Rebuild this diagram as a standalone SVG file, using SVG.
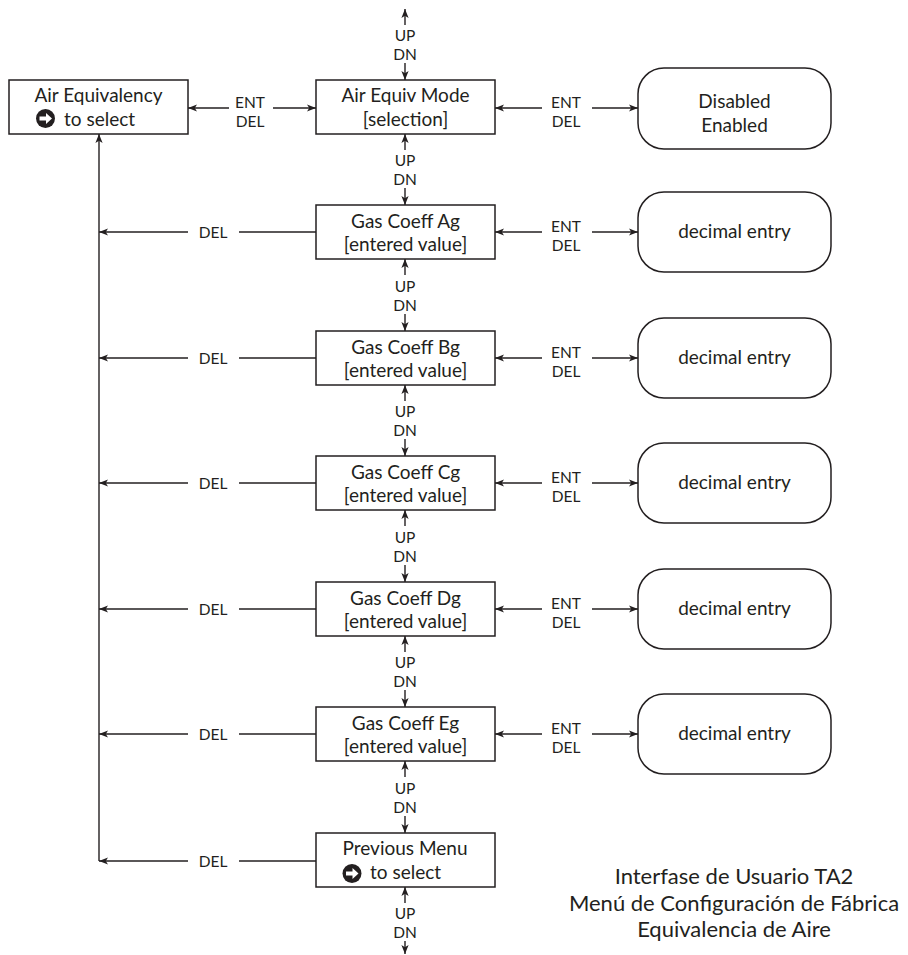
<svg xmlns="http://www.w3.org/2000/svg" width="908" height="955" viewBox="0 0 908 955">
<style>
  .box { fill: #fff; stroke: #231f20; stroke-width: 1.5; }
  .rbox { fill: #fff; stroke: #231f20; stroke-width: 1.5; }
  .ln { fill: none; stroke: #231f20; stroke-width: 1.4; }
  .arr { fill: none; stroke: #231f20; stroke-width: 1.4; marker-end: url(#ah); }
  text { font-family: Lato, "Open Sans", sans-serif; fill: #231f20; }
  .t { font-size: 19px; text-anchor: middle; }
  .tl { font-size: 19px; }
  .lab { font-size: 15.5px; text-anchor: middle; }
  .title { font-size: 22px; text-anchor: middle; }
</style>
<defs>
  <marker id="ah" viewBox="0 0 10 8" refX="10" refY="4" markerWidth="9" markerHeight="7.5" markerUnits="userSpaceOnUse" orient="auto">
    <path d="M0,0 L10,4 L0,8 L2.5,4 z" fill="#231f20"/>
  </marker>
  <g id="icon">
    <circle cx="0" cy="0" r="9.5" fill="#231f20"/>
    <path d="M-6,-2 L0.5,-2 L0.5,-5.5 L6.5,0 L0.5,5.5 L0.5,2 L-6,2 z" fill="#fff"/>
  </g>
</defs>

<g id="connectors">
  <!-- top UP/DN -->
  <line class="arr" x1="405" y1="25" x2="405" y2="9"/>
  <line class="arr" x1="405" y1="63" x2="405" y2="80"/>
  <!-- gaps -->
  <line class="arr" x1="405" y1="150" x2="405" y2="134"/>
  <line class="arr" x1="405" y1="188" x2="405" y2="205"/>
  <line class="arr" x1="405" y1="275" x2="405" y2="259"/>
  <line class="arr" x1="405" y1="314" x2="405" y2="331"/>
  <line class="arr" x1="405" y1="401" x2="405" y2="385"/>
  <line class="arr" x1="405" y1="439" x2="405" y2="456"/>
  <line class="arr" x1="405" y1="526" x2="405" y2="510"/>
  <line class="arr" x1="405" y1="565" x2="405" y2="582"/>
  <line class="arr" x1="405" y1="652" x2="405" y2="636"/>
  <line class="arr" x1="405" y1="690" x2="405" y2="707"/>
  <line class="arr" x1="405" y1="777" x2="405" y2="761"/>
  <line class="arr" x1="405" y1="816" x2="405" y2="833"/>
  <!-- bottom -->
  <line class="arr" x1="405" y1="903" x2="405" y2="887"/>
  <line class="arr" x1="405" y1="941" x2="405" y2="954"/>

  <!-- left ENT/DEL -->
  <line class="arr" x1="229" y1="108" x2="188" y2="108"/>
  <line class="arr" x1="273" y1="108" x2="316" y2="108"/>

  <!-- right ENT/DEL -->
  <line class="arr" x1="542" y1="108" x2="495" y2="108"/>
  <line class="arr" x1="592" y1="108" x2="638" y2="108"/>
  <line class="arr" x1="542" y1="232" x2="495" y2="232"/>
  <line class="arr" x1="592" y1="232" x2="638" y2="232"/>
  <line class="arr" x1="542" y1="358" x2="495" y2="358"/>
  <line class="arr" x1="592" y1="358" x2="638" y2="358"/>
  <line class="arr" x1="542" y1="483" x2="495" y2="483"/>
  <line class="arr" x1="592" y1="483" x2="638" y2="483"/>
  <line class="arr" x1="542" y1="609" x2="495" y2="609"/>
  <line class="arr" x1="592" y1="609" x2="638" y2="609"/>
  <line class="arr" x1="542" y1="734" x2="495" y2="734"/>
  <line class="arr" x1="592" y1="734" x2="638" y2="734"/>

  <!-- left return bus -->
  <line class="arr" x1="99" y1="861" x2="99" y2="134"/>
  <line class="ln" x1="316" y1="232" x2="239" y2="232"/>
  <line class="arr" x1="188" y1="232" x2="99" y2="232"/>
  <line class="ln" x1="316" y1="358" x2="239" y2="358"/>
  <line class="arr" x1="188" y1="358" x2="99" y2="358"/>
  <line class="ln" x1="316" y1="483" x2="239" y2="483"/>
  <line class="arr" x1="188" y1="483" x2="99" y2="483"/>
  <line class="ln" x1="316" y1="609" x2="239" y2="609"/>
  <line class="arr" x1="188" y1="609" x2="99" y2="609"/>
  <line class="ln" x1="316" y1="734" x2="239" y2="734"/>
  <line class="arr" x1="188" y1="734" x2="99" y2="734"/>
  <line class="ln" x1="316" y1="861" x2="239" y2="861"/>
  <line class="arr" x1="188" y1="861" x2="99" y2="861"/>

  <!-- labels -->
  <text class="lab" x="405" y="41">UP</text>
  <text class="lab" x="405" y="60">DN</text>
  <text class="lab" x="405" y="166">UP</text>
  <text class="lab" x="405" y="185">DN</text>
  <text class="lab" x="405" y="292">UP</text>
  <text class="lab" x="405" y="311">DN</text>
  <text class="lab" x="405" y="417">UP</text>
  <text class="lab" x="405" y="436">DN</text>
  <text class="lab" x="405" y="543">UP</text>
  <text class="lab" x="405" y="562">DN</text>
  <text class="lab" x="405" y="668">UP</text>
  <text class="lab" x="405" y="687">DN</text>
  <text class="lab" x="405" y="794">UP</text>
  <text class="lab" x="405" y="813">DN</text>
  <text class="lab" x="405" y="919">UP</text>
  <text class="lab" x="405" y="938">DN</text>

  <text class="lab" x="250" y="108">ENT</text>
  <text class="lab" x="250" y="127">DEL</text>

  <text class="lab" x="566" y="108">ENT</text>
  <text class="lab" x="566" y="127">DEL</text>
  <text class="lab" x="566" y="232">ENT</text>
  <text class="lab" x="566" y="251">DEL</text>
  <text class="lab" x="566" y="358">ENT</text>
  <text class="lab" x="566" y="377">DEL</text>
  <text class="lab" x="566" y="483">ENT</text>
  <text class="lab" x="566" y="502">DEL</text>
  <text class="lab" x="566" y="609">ENT</text>
  <text class="lab" x="566" y="628">DEL</text>
  <text class="lab" x="566" y="734">ENT</text>
  <text class="lab" x="566" y="753">DEL</text>

  <text class="lab" x="213" y="237.5">DEL</text>
  <text class="lab" x="213" y="363.5">DEL</text>
  <text class="lab" x="213" y="488.5">DEL</text>
  <text class="lab" x="213" y="614.5">DEL</text>
  <text class="lab" x="213" y="739.5">DEL</text>
  <text class="lab" x="213" y="866.5">DEL</text>
</g>

<g id="air-equivalency">
  <rect class="box" x="9" y="80" width="179" height="54"/>
  <text class="t" x="98.5" y="102">Air Equivalency</text>
  <use href="#icon" x="45.5" y="118.5"/>
  <text class="tl" x="64" y="126">to select</text>
</g>

<g id="air-equiv-mode">
  <rect class="box" x="316" y="80" width="179" height="54"/>
  <text class="t" x="405.5" y="102">Air Equiv Mode</text>
  <text class="t" x="405.5" y="126">[selection]</text>
</g>

<g id="mode-options">
  <rect class="rbox" x="638" y="68" width="193" height="81" rx="26"/>
  <text class="t" x="734.5" y="108">Disabled</text>
  <text class="t" x="734.5" y="132">Enabled</text>
</g>

<g id="gas-coeff-ag">
  <rect class="box" x="316" y="205" width="179" height="54"/>
  <text class="t" x="405.5" y="228">Gas Coeff Ag</text>
  <text class="t" x="405.5" y="251">[entered value]</text>
</g>
<g id="entry-ag">
  <rect class="rbox" x="638" y="192" width="193" height="80" rx="26"/>
  <text class="t" x="734.5" y="238">decimal entry</text>
</g>

<g id="gas-coeff-bg">
  <rect class="box" x="316" y="331" width="179" height="54"/>
  <text class="t" x="405.5" y="354">Gas Coeff Bg</text>
  <text class="t" x="405.5" y="377">[entered value]</text>
</g>
<g id="entry-bg">
  <rect class="rbox" x="638" y="318" width="193" height="80" rx="26"/>
  <text class="t" x="734.5" y="364">decimal entry</text>
</g>

<g id="gas-coeff-cg">
  <rect class="box" x="316" y="456" width="179" height="54"/>
  <text class="t" x="405.5" y="479">Gas Coeff Cg</text>
  <text class="t" x="405.5" y="502">[entered value]</text>
</g>
<g id="entry-cg">
  <rect class="rbox" x="638" y="443" width="193" height="80" rx="26"/>
  <text class="t" x="734.5" y="489">decimal entry</text>
</g>

<g id="gas-coeff-dg">
  <rect class="box" x="316" y="582" width="179" height="54"/>
  <text class="t" x="405.5" y="605">Gas Coeff Dg</text>
  <text class="t" x="405.5" y="628">[entered value]</text>
</g>
<g id="entry-dg">
  <rect class="rbox" x="638" y="569" width="193" height="80" rx="26"/>
  <text class="t" x="734.5" y="615">decimal entry</text>
</g>

<g id="gas-coeff-eg">
  <rect class="box" x="316" y="707" width="179" height="54"/>
  <text class="t" x="405.5" y="730">Gas Coeff Eg</text>
  <text class="t" x="405.5" y="753">[entered value]</text>
</g>
<g id="entry-eg">
  <rect class="rbox" x="638" y="694" width="193" height="80" rx="26"/>
  <text class="t" x="734.5" y="740">decimal entry</text>
</g>

<g id="previous-menu">
  <rect class="box" x="316" y="833" width="179" height="54"/>
  <text class="t" x="405" y="855">Previous Menu</text>
  <use href="#icon" x="352" y="873.5"/>
  <text class="tl" x="370" y="879">to select</text>
</g>

<g id="title">
  <text class="title" x="734" y="884">Interfase de Usuario TA2</text>
  <text class="title" x="734" y="910.5">Menú de Configuración de Fábrica</text>
  <text class="title" x="734" y="937">Equivalencia de Aire</text>
</g>
</svg>
